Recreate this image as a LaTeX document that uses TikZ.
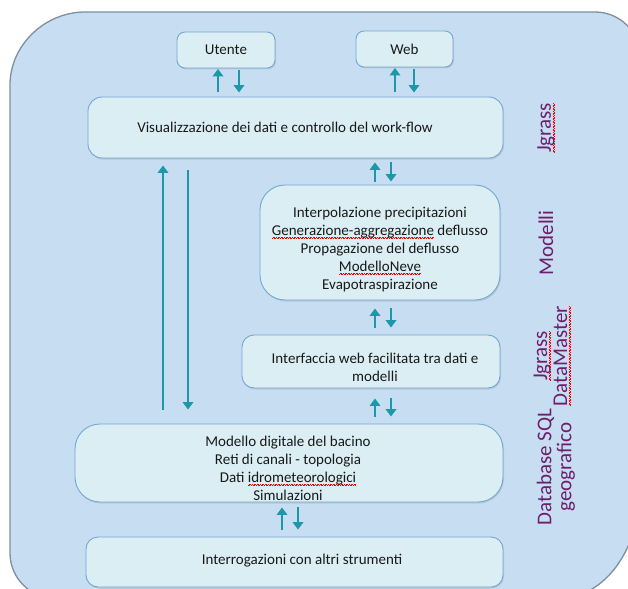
\documentclass[tikz,border=0pt]{standalone}
\usepackage{fontspec}
\setmainfont{Carlito}
\usetikzlibrary{arrows.meta,shadows}
\definecolor{bgblue}{HTML}{C7DDF1}
\definecolor{bgline}{HTML}{7E8F9F}
\definecolor{boxfill}{HTML}{DAEEF4}
\definecolor{boxline}{HTML}{74A6D2}
\definecolor{arrteal}{HTML}{1C98A8}
\definecolor{lblpurple}{HTML}{6E1F6C}
\newcommand\spell[1]{\leavevmode\setbox0=\hbox{#1}\rlap{\textcolor{red}{\hbox to \wd0{\xleaders\hbox{\rule[-3.3pt]{0.8pt}{0.5pt}\rule[-2.8pt]{0.8pt}{0.5pt}}\hfill}}}\box0\relax}
\begin{document}
\begin{tikzpicture}[x=1pt,y=-1pt,
  box/.style={draw=boxline, line width=0.9pt, fill=boxfill, align=center, inner sep=0pt,
    font=\fontsize{15}{18}\selectfont, text=black!90,
    drop shadow={opacity=0.22, shadow xshift=1pt, shadow yshift=-1.5pt}},
  txt/.style={align=center, inner sep=0pt, font=\fontsize{15}{18}\selectfont, text=black!90},
  arr/.style={draw=arrteal, line width=2.6pt, -{Triangle[length=7.5pt,width=10.5pt]}},
  lbl/.style={text=lblpurple, rotate=90, align=center, font=\fontsize{21}{20}\selectfont}]
\useasboundingbox (0,0) rectangle (628,588);
\begin{scope}
\clip (0,0) rectangle (628,588);
\draw[fill=bgblue, draw=bgline, line width=1.3pt]
  (10,85) .. controls (10,45) and (45,12) .. (85,12) -- (595,12)
  .. controls (620,12) and (640,32) .. (640,57) -- (640,488)
  .. controls (640,550) and (604,598) .. (560,598) -- (55,598)
  .. controls (30,598) and (10,578) .. (10,553) -- cycle;
\end{scope}

\node[box, rounded corners=8pt, minimum width=98pt, minimum height=36pt] (utente) at (226,50) {Utente};
\node[box, rounded corners=8pt, minimum width=97pt, minimum height=36pt] (web) at (404.5,49) {Web};
\node[box, rounded corners=14pt, minimum width=415pt, minimum height=61pt] (vis) at (295.5,127.5)
  {\hspace*{-21pt}Visualizzazione dei dati e controllo del work-flow};
\node[box, rounded corners=25pt, minimum width=240pt, minimum height=115pt] (modelli) at (380,242.5) {};
\node[box, rounded corners=12pt, minimum width=258pt, minimum height=53pt] (interf) at (371,361.5) {};
\node[box, rounded corners=25pt, minimum width=428pt, minimum height=78pt] (db) at (289,463) {};
\node[box, rounded corners=12pt, minimum width=417pt, minimum height=50pt] (interrog) at (294.5,562) {};

\node[txt] (modelli-t) at (380,249)
  {Interpolazione precipitazioni\\ \spell{Generazione-aggregazione} deflusso\\ Propagazione del deflusso\\ \spell{ModelloNeve}\\ Evapotraspirazione};
\node[txt] (interf-t) at (375,367) {Interfaccia web facilitata tra dati e\\ modelli};
\node[txt] (db-t) at (288,468)
  {Modello digitale del bacino\\ Reti di canali - topologia\\ Dati \spell{idrometeorologici}\\ Simulazioni};
\node[txt] (interrog-t) at (302,561) {Interrogazioni con altri strumenti};

\node[lbl] (lj1) at (546,128) {\spell{Jgrass}};
\node[lbl] (lmod) at (546,243) {Modelli};
\node[lbl] (ljdm) at (552,356) {\spell{Jgrass}\\ \spell{DataMaster}};
\node[lbl] (ldb) at (556,467) {Database SQL\\ geografico};

\coordinate (xua) at (218,0);
\coordinate (xud) at (239,0);
\coordinate (xwa) at (395,0);
\coordinate (xwd) at (414,0);
\coordinate (xma) at (375,0);
\coordinate (xmd) at (391,0);
\coordinate (xla) at (163,0);
\coordinate (xld) at (188,0);
\coordinate (xba) at (282,0);
\coordinate (xbd) at (298,0);

\draw[arr, shorten <=5pt, shorten >=0.5pt] (xua |- vis.north) -- (xua |- utente.south);
\draw[arr, shorten <=2pt, shorten >=4pt] (xud |- utente.south) -- (xud |- vis.north);
\draw[arr, shorten <=5pt, shorten >=0.5pt] (xwa |- vis.north) -- (xwa |- web.south);
\draw[arr, shorten <=2pt, shorten >=4pt] (xwd |- web.south) -- (xwd |- vis.north);

\draw[arr, shorten <=3pt, shorten >=4pt] (xma |- modelli.north) -- (xma |- vis.south);
\draw[arr, shorten <=4pt, shorten >=3pt] (xmd |- vis.south) -- (xmd |- modelli.north);

\draw[arr, shorten <=7pt, shorten >=8pt] (xma |- interf.north) -- (xma |- modelli.south);
\draw[arr, shorten <=8pt, shorten >=7pt] (xmd |- modelli.south) -- (xmd |- interf.north);

\draw[arr, shorten <=7pt, shorten >=10pt] (xma |- db.north) -- (xma |- interf.south);
\draw[arr, shorten <=10pt, shorten >=7pt] (xmd |- interf.south) -- (xmd |- db.north);

\draw[arr, shorten <=14pt, shorten >=7pt] (xla |- db.north) -- (xla |- vis.south);
\draw[arr, shorten <=12pt, shorten >=14pt] (xld |- vis.south) -- (xld |- db.north);

\draw[arr, shorten <=7pt, shorten >=5pt] (xba |- interrog.north) -- (xba |- db.south);
\draw[arr, shorten <=5pt, shorten >=7pt] (xbd |- db.south) -- (xbd |- interrog.north);
\end{tikzpicture}
\end{document}
